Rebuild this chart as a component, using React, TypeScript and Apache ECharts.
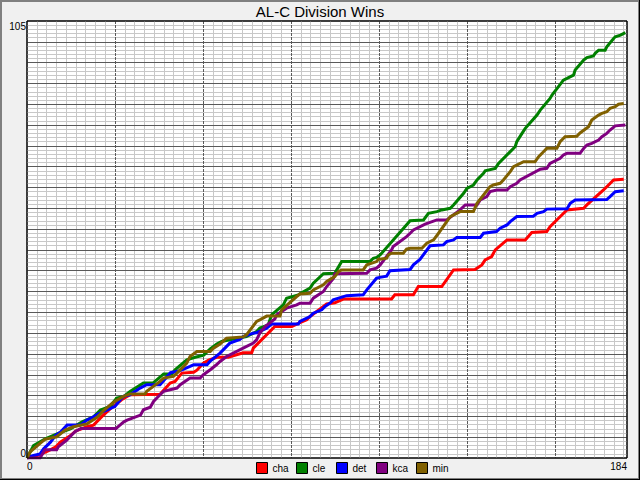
import React, { useEffect, useRef } from "react";
import * as echarts from "echarts";

const teams = ["cha", "cle", "det", "kca", "min"];
const teamColors = ["#ff0000", "#008000", "#0000ff", "#800080", "#806000"];
const xRange = [0, 184];
const yRange = [0, 105];

const cha = [[0,0],[3,0.5],[6,1.5],[8.7,2.6],[10.2,3.8],[13,5.2],[15,6.5],[18.4,7.5],[20.4,7.9],[23,10],[25.5,11.8],[27.6,13.1],[29,14],[31.6,15.2],[40.8,15.3],[43.9,18],[45.4,18.4],[47.5,20.4],[51.1,20.6],[52.1,21.1],[54.1,22.8],[55.7,23.5],[58.2,24.2],[61.7,24.2],[66.3,25.3],[68.9,25.3],[69.4,26.4],[76,31.6],[81.2,31.6],[83.7,32.5],[85.8,33.2],[86.8,34],[90.9,36.4],[91.9,37],[94.4,37.3],[97,38.2],[111.8,38.2],[112.8,39.2],[118.5,39.2],[120,41.2],[127.2,41.2],[130.8,45.2],[137.4,45.3],[139.5,46.4],[140.5,47.6],[142.5,48.4],[143.6,50],[147.2,52.4],[152.8,52.4],[154.8,54.2],[159.4,54.4],[160.4,55.6],[163,57.6],[165.6,59.6],[170.7,60],[171.7,60.8],[176.8,64.4],[179.9,66.8],[183,67]];

const cle = [[0,0],[2,3],[5.6,4.6],[9.2,5.8],[13.3,7],[16.9,8.7],[20.4,9.9],[22.5,11.5],[25.5,12.4],[27.5,14.4],[29.7,14.8],[31.6,16],[35.7,18],[38.8,18.1],[39.8,18.8],[41.9,20.2],[44.4,20.2],[45.4,21.2],[49,23.6],[51.6,24.2],[54.2,24.7],[56.2,26.2],[58.2,27.4],[59.7,28],[62.2,28.4],[67.3,29.2],[70.4,30.4],[71.4,31.2],[74,32],[75,34.4],[78.6,36.8],[79.6,38.4],[83.2,39.2],[84.2,39.7],[86.8,40.8],[87.8,42],[90.9,44.3],[94.4,44.4],[95,45.2],[96.5,47.2],[105.2,47.2],[106.2,48],[107.2,48.2],[108.3,48.8],[117.5,57],[121.6,57.2],[123.1,58.8],[125.7,59.2],[127.2,59.6],[129.8,60],[130.8,60.8],[133.9,63.6],[134.9,64.8],[136.9,65.6],[138,66.8],[140,68.4],[140.5,69],[143.6,69.6],[144.6,70.8],[148.2,73.6],[149.7,74.8],[150.2,76],[151.8,78],[152.8,79.2],[156.4,82.4],[157.4,83.6],[160.4,86.4],[161,87.2],[164.5,90.8],[165.6,91.2],[167.6,92],[168.1,93.2],[170.7,95.6],[171.7,96.2],[173.7,96.6],[174.2,97.2],[175.3,98],[177.3,98],[177.8,98.8],[179.9,100.8],[180.4,101.2],[182,101.6],[183.5,102.2]];

const det = [[0,0],[2,0.6],[4,1],[5.1,2.2],[7.2,3.8],[8.7,5.4],[10.2,6.2],[12.3,7.9],[16.4,7.9],[18.4,9.1],[20.4,9.9],[22,10.7],[24.5,11.5],[27,12.4],[28.6,14],[29.6,14.8],[31.6,15.2],[34.7,16.8],[36.7,17.6],[40.8,17.6],[44,20.5],[47,21],[50,22],[51.1,22.4],[55.2,22.4],[56.1,23.2],[59.2,25.2],[62.2,27.6],[65.3,28.5],[66.3,29.2],[69.4,30],[70.4,30.1],[73.5,31.2],[75,32.2],[83.2,32.2],[83.7,32.8],[86.8,34],[87.8,34.8],[90.4,35.6],[91.4,36.4],[92.9,37.2],[93.9,38],[98,39],[103.1,39.2],[104.2,40.4],[107.2,43.2],[108.2,43.4],[110.3,43.7],[111.3,45],[117.5,45.3],[118.5,46.4],[120.5,47.7],[123.6,51],[127.7,51.2],[128.7,52],[130.8,52.4],[131.8,53],[139,53],[140,54],[144,54.4],[145.1,55.2],[147.2,56],[148.2,56.8],[150.2,58],[155.3,58.1],[156.4,58.8],[158.4,59.2],[159.4,59.8],[165.6,59.9],[166.6,61.2],[168.1,62],[177.8,62.1],[178.8,62.8],[180.4,64],[183,64.2]];

const kca = [[0,0],[4,0],[5.5,2],[9.1,2],[9.6,2.7],[12.2,4.3],[13.2,5.1],[14.7,6.3],[16.5,7.1],[27.3,7.1],[28.5,7.9],[29.7,8.7],[30.7,9.1],[34.8,10.3],[35.7,11.6],[37.8,12.2],[38.8,13.6],[40.8,15.2],[41.9,16],[46,16.8],[47,17.6],[50,19.2],[53.1,19.2],[54.1,20],[56.2,21.2],[58.1,22.4],[59.2,23.2],[61.2,24.4],[66.3,26.4],[69.4,27.6],[70.4,28.4],[71.4,30],[73,31.6],[76,33.4],[76.6,34.4],[79.6,36],[82.7,36.8],[83.7,37.2],[86.8,37.2],[87.8,38.4],[90.9,40],[91.9,41.2],[94,43.2],[94.4,44.3],[104.2,44.4],[105.2,45.2],[107.2,45.6],[108.3,46.4],[111.8,50],[112.3,50.8],[116.4,53.2],[117.5,54],[118.5,54.8],[122.1,56.2],[125.7,57.2],[128.7,57.2],[132.8,59.6],[134.4,60.8],[138,60.8],[139,62],[141,62.8],[142,64],[144.1,64.4],[147.2,64.4],[148.2,65.2],[150.2,66],[151.2,66.8],[157.4,69.4],[159.4,69.6],[160.4,70.8],[163.5,72],[164.5,72.8],[165.6,73.2],[169.6,73.2],[170.7,74.4],[171.7,75.2],[173.2,75.6],[175.3,76.4],[176.3,77.2],[177.8,78],[178.8,78.8],[180.4,79.8],[183.5,80]];

const min = [[0,0],[1,1.5],[4,3.5],[5.5,4.5],[9.1,5.1],[11.7,6.7],[14.2,7.5],[18.4,8.2],[21.5,9.8],[23.5,11.4],[26.5,13.4],[29.6,14.8],[31.6,15.4],[36.2,15.4],[36.7,16],[40.8,18.4],[41.9,19.2],[44.9,19.6],[46,20.4],[49,22.8],[50,24.4],[52.1,25.6],[56.2,25.6],[57.2,26.4],[59.2,27.4],[61.2,28.8],[66.3,29.1],[67.3,29.6],[70.4,32.8],[71.4,33.2],[73.5,34.1],[77.6,34.1],[78.1,35.6],[82.7,38.8],[83.7,39.4],[86.8,39.6],[87.8,40.4],[90.9,41.6],[91.9,42.4],[94.4,43.6],[95.5,44.8],[96.5,45.2],[103.1,45.2],[104.2,46.4],[107.2,47.2],[107.7,47.7],[110.3,48],[110.8,48.8],[111.8,49.2],[115.4,49.2],[116.4,50.2],[117.5,50.4],[121.1,50.4],[122.6,51.6],[124.7,52.4],[126.2,54],[129.8,58],[132.8,59.2],[136.9,59.2],[138,61.2],[142,65.2],[143,65.6],[145.1,66],[146.1,66.8],[148.2,68.8],[149.2,70],[152.3,71.2],[155.8,71.2],[156.9,72.4],[158.4,73.6],[159.4,74.4],[162.5,74.4],[163.5,76],[165,77.2],[168.6,77.3],[169.6,78.1],[172.2,79.6],[173.2,81.2],[175.3,82.4],[176.3,82.8],[177.8,83.2],[178.8,84],[180.4,84.4],[181.4,85],[183,85.2]];

const seriesData = [cha, cle, det, kca, min];

const FONT = "Liberation Sans, Arial, sans-serif";
const MAJOR = "#5a5a5a";
const MINORC = "#c8c8c8";

export default function App() {
  const ref = useRef<HTMLDivElement>(null);
  useEffect(() => {
    if (!ref.current) return;
    const chart = echarts.init(ref.current, undefined, { renderer: "svg" });
    const hidden = { show: false };
    const labelBase = { color: "#000", fontSize: 10, fontFamily: FONT, showMinLabel: true, showMaxLabel: true };
    const xBase = { type: "value", min: xRange[0], max: xRange[1], interval: 27, position: "bottom", axisLine: hidden, axisTick: hidden, minorTick: { show: false, splitNumber: 9 } };
    const yBase = { type: "value", min: yRange[0], max: yRange[1], interval: 5, position: "left", axisLine: hidden, axisTick: hidden, minorTick: { show: false, splitNumber: 5 } };
    chart.setOption({
      animation: false,
      backgroundColor: "#f0f0f0",
      title: {
        text: "AL-C Division Wins",
        left: "center",
        top: 4,
        padding: 0,
        textStyle: { fontSize: 15, fontWeight: "normal", color: "#000", fontFamily: FONT },
      },
      grid: { left: 27, top: 21, width: 600, height: 437, show: true, backgroundColor: "#fff", borderColor: "#000", borderWidth: 1 },
      legend: teams.map((t, i) => ({
        data: [t],
        left: 256 + 40 * i,
        top: 462,
        padding: 0,
        itemWidth: 11,
        itemHeight: 11,
        itemGap: 0,
        icon: "rect",
        selectedMode: false,
        itemStyle: { borderColor: "#000", borderWidth: 1 },
        textStyle: { fontSize: 10, color: "#000", fontFamily: FONT },
      })),
      xAxis: [
        {
          ...xBase, z: 0,
          splitLine: { show: false },
          minorSplitLine: { show: true, lineStyle: { color: MINORC, width: 1 } },
          axisLabel: { ...labelBase, margin: 3, align: "left", formatter: (v: number) => (v === xRange[0] ? String(v) : "") },
        },
        {
          ...xBase, z: 1,
          splitLine: { show: true, showMinLine: false, showMaxLine: false, lineStyle: { color: MAJOR, width: 1, type: [3, 1] } },
          minorSplitLine: { show: false },
          axisLabel: { ...labelBase, margin: 3, align: "right", formatter: (v: number) => (v === xRange[1] ? String(v) : "") },
        },
      ],
      yAxis: [
        {
          ...yBase, z: 0,
          splitLine: { show: false },
          minorSplitLine: { show: true, lineStyle: { color: MINORC, width: 1 } },
          axisLabel: { ...labelBase, margin: 1, verticalAlign: "bottom", formatter: (v: number) => (v === yRange[0] ? String(v) : "") },
        },
        {
          ...yBase, z: 1,
          splitLine: { show: true, showMinLine: false, showMaxLine: false, lineStyle: { color: MAJOR, width: 1 } },
          minorSplitLine: { show: false },
          axisLabel: { ...labelBase, margin: 1, verticalAlign: "top", formatter: (v: number) => (v === yRange[1] ? String(v) : "") },
        },
      ],
      series: teams.map((t, i) => ({
        name: t,
        type: "line",
        xAxisIndex: 0,
        yAxisIndex: 0,
        data: seriesData[i],
        color: teamColors[i],
        showSymbol: false,
        symbol: "none",
        z: 3,
        lineStyle: { width: 3, color: teamColors[i], join: "miter" },
        itemStyle: { color: teamColors[i] },
      })),
      graphic: [
        { type: "rect", z: 100, silent: true, shape: { x: 27, y: 21, width: 600, height: 437 }, style: { fill: "none", stroke: "#000", lineWidth: 1 } },
        { type: "rect", z: 100, silent: true, shape: { x: 1, y: 1, width: 638, height: 478 }, style: { fill: "none", stroke: "#808080", lineWidth: 2 } },
        { type: "line", z: 101, silent: true, shape: { x1: 0, y1: 479.5, x2: 640, y2: 479.5 }, style: { stroke: "#000", lineWidth: 1 } },
        { type: "line", z: 101, silent: true, shape: { x1: 639.5, y1: 0, x2: 639.5, y2: 480 }, style: { stroke: "#000", lineWidth: 1 } },
      ],
    });
    return () => chart.dispose();
  }, []);
  return <div ref={ref} style={{ position: "absolute", left: 0, top: 0, width: 640, height: 480 }} />;
}
